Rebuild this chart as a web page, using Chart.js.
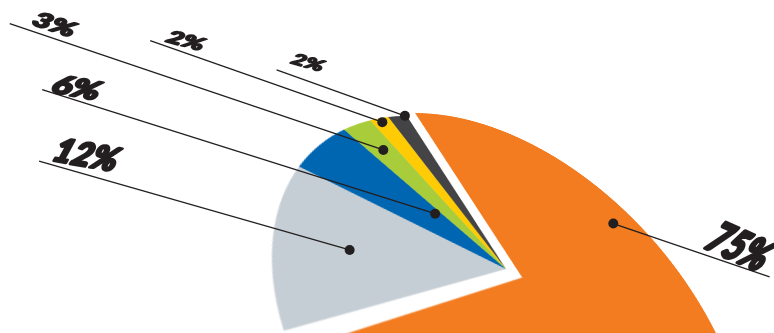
<!DOCTYPE html>
<html>
<head>
<meta charset="utf-8">
<script src="https://cdn.jsdelivr.net/npm/chart.js@4.4.1/dist/chart.umd.min.js"></script>
<style>
    html, body { margin: 0; padding: 0; background: #fff; }
    #stage { position: relative; width: 774px; height: 333px; overflow: hidden; }
    #pieWrap { position: absolute; left: 0; top: 0; transform-origin: 0 0; }
    #pie { display: block; }
    #labels { position: absolute; left: 0; top: 0; }
</style>
</head>
<body>
<div id="stage">
    <div id="pieWrap"><canvas id="pie" width="500" height="500"></canvas></div>
    <canvas id="labels" width="774" height="333"></canvas>
</div>
<script>
// Shares shown on the pie (%)
const shareLabels = ['75%', '12%', '6%', '3%', '2%', '2%'];
const shareValues = [75, 12, 6, 3, 2, 2];

// Slice styling
const sliceColors = ['#f37c21', '#c6ced5', '#0066b2', '#a8cc3a', '#ffcb05', '#444446'];
const sliceOffset = [64, 0, 0, 0, 0, 0];

// Where each leader dot sits: [fraction along the slice, depth as share of radius]
const dotSpot = [[0.2985, 0.88], [0.456, 0.71], [0.8, 0.39], [0.5, 0.8], [0.5, 0.97], [0.9, 1.0]];
// How far each leader runs across the flat pie (in radii from the centre, minus = left)
const labelReach = [1.88, -1.785, -1.976, -2.293, -1.832, -1.26];
const leaderDrop = 0.025; // leaders lean slightly on the flat pie
// Label text styling
const labelFont = [44, 33, 26, 21, 18, 16];
const labelStretch = [0.72, 1.0, 1.4, 1.5, 1.55, 1.5];
const labelTilt = [24, 10, 10, 18, 15, 16];
const labelGap = [[12, 1], [11, 4], [8, 0], [20, 6], [14, 4], [10, 11]];

// Perspective view of the flat pie on the page: centre, axis vectors, vanishing terms
const view = { ox: 506, oy: 269, ax: 202.8, ay: 65.2, bx: 21.8, by: 188.5, px: 0.093, py: -0.3756 };

function toPage(X, Y) {
    const w = 1 + view.px * X + view.py * Y;
    return [view.ox + (X * view.ax + Y * view.bx) / w, view.oy + (X * view.ay + Y * view.by) / w];
}

function viewMatrix(cx, cy, R) {
    const v = view;
    const m = [
        [v.ax + v.ox * v.px, v.bx + v.ox * v.py, v.ox],
        [v.ay + v.oy * v.px, v.by + v.oy * v.py, v.oy],
        [v.px, v.py, 1]
    ];
    const h = m.map(r => [r[0] / R, r[1] / R, r[2] - (r[0] * cx + r[1] * cy) / R]);
    return `matrix3d(${h[0][0]},${h[1][0]},0,${h[2][0]},${h[0][1]},${h[1][1]},0,${h[2][1]},0,0,1,0,${h[0][2]},${h[1][2]},0,${h[2][2]})`;
}

// Tilt the pie canvas into the page
const perspectivePlugin = {
    id: 'perspective',
    afterUpdate(chart) {
        const arc = chart.getDatasetMeta(0).data[0];
        document.getElementById('pieWrap').style.transform = viewMatrix(arc.x, arc.y, arc.outerRadius);
    }
};

// Leader lines, dots and labels, drawn on the page overlay
const leaderPlugin = {
    id: 'leaders',
    afterDraw(chart) {
        const lctx = document.getElementById('labels').getContext('2d');
        lctx.clearRect(0, 0, 774, 333);
        lctx.strokeStyle = '#231f20';
        lctx.fillStyle = '#231f20';
        lctx.lineJoin = 'round';

        chart.getDatasetMeta(0).data.forEach((arc, i) => {
            const R = arc.outerRadius;
            const mid = (arc.startAngle + arc.endAngle) / 2;
            const shift = (arc.options.offset || 0) / 4 / R; // Chart.js moves an offset slice by offset / 4
            const a = arc.startAngle + dotSpot[i][0] * (arc.endAngle - arc.startAngle);
            const X = Math.cos(mid) * shift + Math.cos(a) * dotSpot[i][1];
            const Y = Math.sin(mid) * shift + Math.sin(a) * dotSpot[i][1];

            const dot = toPage(X, Y);
            const end = toPage(labelReach[i], Y - leaderDrop * (labelReach[i] - X));

            lctx.lineWidth = 1.3;
            lctx.beginPath();
            lctx.moveTo(dot[0], dot[1]);
            lctx.lineTo(end[0], end[1]);
            lctx.stroke();

            lctx.beginPath();
            lctx.arc(dot[0], dot[1], 5, 0, Math.PI * 2);
            lctx.fill();

            // unit vector from the line end back towards the dot
            const len = Math.hypot(dot[0] - end[0], dot[1] - end[1]);
            const u = [(dot[0] - end[0]) / len, (dot[1] - end[1]) / len];
            const d = u[0] > 0 ? u : [-u[0], -u[1]];
            const up = [d[1], -d[0]];
            const tx = end[0] + u[0] * labelGap[i][0] + up[0] * labelGap[i][1];
            const ty = end[1] + u[1] * labelGap[i][0] + up[1] * labelGap[i][1];

            lctx.save();
            lctx.translate(tx, ty);
            lctx.rotate(labelTilt[i] * Math.PI / 180);
            lctx.transform(1, 0, -0.22, 1, 0, 0);
            lctx.scale(labelStretch[i], 1);
            lctx.font = `italic 900 ${labelFont[i]}px Lato, "Liberation Sans", sans-serif`;
            lctx.textAlign = labelReach[i] < 0 ? 'left' : 'right';
            lctx.textBaseline = 'alphabetic';
            lctx.lineWidth = labelFont[i] / 12;
            lctx.fillText(shareLabels[i], 0, 0);
            lctx.strokeText(shareLabels[i], 0, 0);
            lctx.restore();
        });
    }
};

new Chart(document.getElementById('pie'), {
    type: 'pie',
    data: {
        labels: shareLabels,
        datasets: [{
            data: shareValues,
            backgroundColor: sliceColors,
            borderWidth: 0,
            offset: sliceOffset
        }]
    },
    options: {
        responsive: false,
        animation: false,
        devicePixelRatio: 2,
        rotation: -32,
        radius: 200,
        events: [],
        plugins: {
            legend: { display: false },
            tooltip: { enabled: false }
        }
    },
    plugins: [perspectivePlugin, leaderPlugin]
});
</script>
</body>
</html>
